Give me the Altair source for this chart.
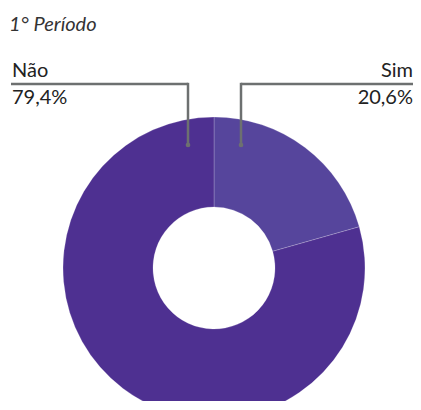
import altair as alt
import pandas as pd

categories = ["Sim", "Não"]
values = [20.6, 79.4]
colors = ["#56459c", "#4e3091"]
title_text = "1° Período"

df = pd.DataFrame({
    "categoria": categories,
    "valor": values,
    "ordem": list(range(len(categories))),
    "pct": [f"{v:.1f}%".replace(".", ",") for v in values],
})

FONT = "Lato"
W, H = 405, 393
CX, CY = 206, 260
R_OUT, R_IN = 151, 61

base = alt.Chart(df)

donut = base.mark_arc(
    radius=R_OUT, radius2=R_IN, x=CX, y=CY,
    stroke="#ffffff", strokeWidth=0.6, strokeOpacity=0.35,
).encode(
    theta=alt.Theta("valor:Q", stack=True),
    order=alt.Order("ordem:Q"),
    color=alt.Color("categoria:N", scale=alt.Scale(domain=categories, range=colors), legend=None),
)

# annotation layout per category
layout = {
    "Não": dict(tx=4, align="left", vx=180, hx1=3, hx2=180),
    "Sim": dict(tx=405, align="right", vx=233, hx1=233, hx2=405),
}
LINE_Y = 76
DOT_Y = 137
LINE_COLOR = "#6d7070"

layers = [donut]
for cat, lo in layout.items():
    sub = base.transform_filter(alt.datum.categoria == cat)
    layers.append(sub.mark_text(align=lo["align"], baseline="alphabetic", font=FONT,
                                fontSize=20, color="#222222").encode(
        x=alt.value(lo["tx"]), y=alt.value(69), text="categoria:N"))
    layers.append(sub.mark_text(align=lo["align"], baseline="alphabetic", font=FONT,
                                fontSize=20, color="#222222").encode(
        x=alt.value(lo["tx"]), y=alt.value(96), text="pct:N"))
    layers.append(sub.mark_rule(color=LINE_COLOR, strokeWidth=2.5).encode(
        x=alt.value(lo["hx1"]), x2=alt.value(lo["hx2"]), y=alt.value(LINE_Y)))
    layers.append(sub.mark_rule(color=LINE_COLOR, strokeWidth=2.5).encode(
        x=alt.value(lo["vx"]), y=alt.value(LINE_Y - 1.2), y2=alt.value(DOT_Y)))
    layers.append(sub.mark_point(filled=True, color=LINE_COLOR, size=22, opacity=1).encode(
        x=alt.value(lo["vx"]), y=alt.value(DOT_Y)))

title = alt.Chart(pd.DataFrame({"t": [title_text]})).mark_text(
    align="left", baseline="alphabetic", font=FONT, fontSize=20, fontStyle="italic",
    color="#333333").encode(x=alt.value(1), y=alt.value(23), text="t:N")
layers.append(title)

chart = alt.layer(*layers).properties(
    width=W, height=H, padding=0, autosize=alt.AutoSizeParams(type="none")
).configure_view(stroke=None)

chart.save("out.html", embed_options={"renderer": "svg", "actions": False})
